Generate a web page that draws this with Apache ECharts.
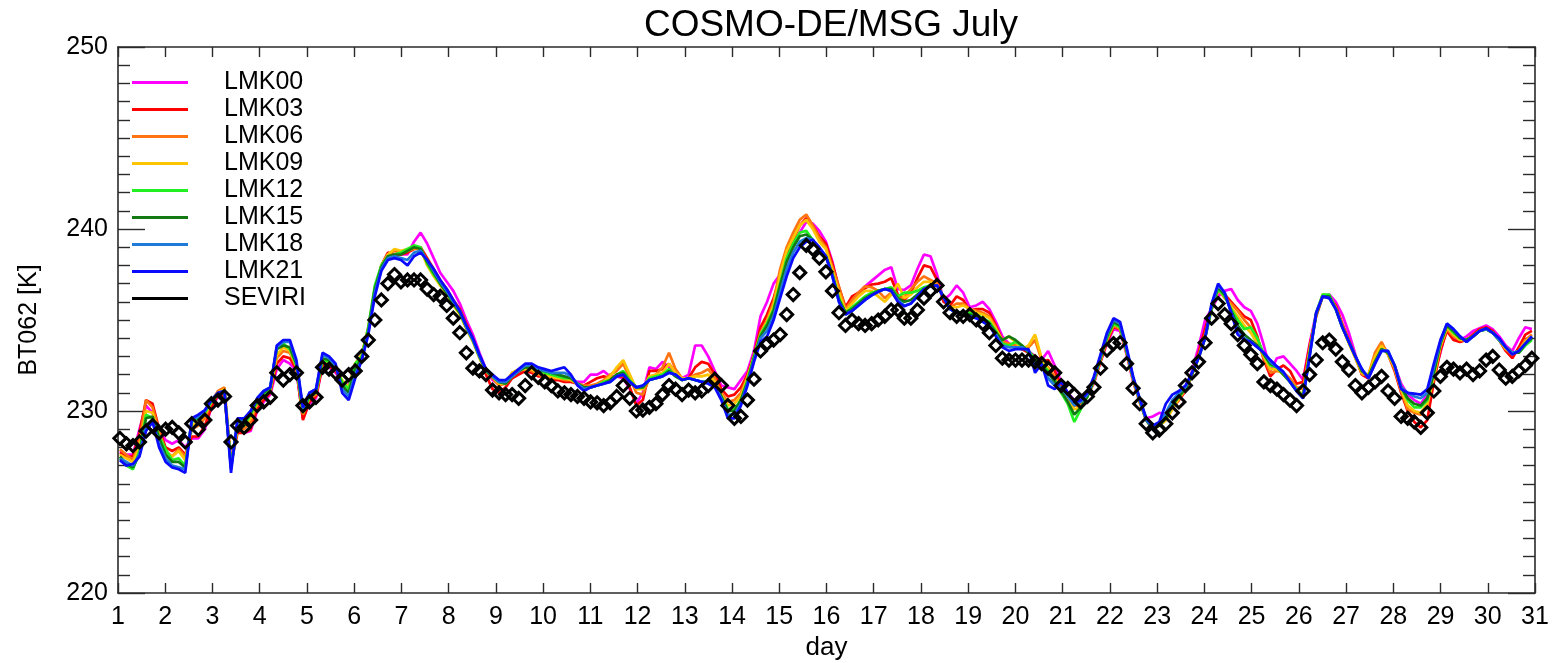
<!DOCTYPE html>
<html>
<head>
<meta charset="utf-8">
<script src="https://cdn.jsdelivr.net/npm/echarts@6/dist/echarts.min.js"></script>
<style>
  html, body { margin: 0; padding: 0; background: #ffffff; }
  #chart { width: 1558px; height: 663px; }
</style>
</head>
<body>
<div id="chart"></div>
<script>
// Brightness temperature in the 6.2 µm channel, July: COSMO-DE runs vs. SEVIRI.
// All series share one sampling grid, starting at day 1.04.
const firstDay = 1.04;
const stepDays = 0.1384;

const dayTicks = [1, 31, 1];          // min, max, interval of the day axis
const btTicks = [220, 250, 10];       // min, max, interval of the BT axis

const sevir = [
  228.5,228.2,228.1,228.3,228.9,229.2,228.8,229.0,229.1,228.8,
  228.3,229.3,229.0,229.5,230.4,230.6,230.8,228.3,229.2,229.1,
  229.5,230.3,230.5,230.75,232.1,231.7,232.0,232.1,230.3,230.5,
  230.75,232.4,232.3,232.1,231.7,232.0,232.2,233.0,233.9,235.0,
  236.1,237.0,237.5,237.1,237.2,237.2,237.2,236.7,236.4,236.3,
  235.8,235.1,234.3,233.2,232.35,232.2,232.0,231.15,231.0,230.9,
  230.9,230.7,231.4,232.1,231.85,231.6,231.4,231.1,231.0,230.9,
  230.8,230.7,230.5,230.45,230.3,230.45,230.8,231.4,230.7,230.0,
  230.05,230.2,230.4,230.9,231.4,231.2,230.9,231.15,231.0,231.1,
  231.4,231.75,231.4,230.3,229.6,229.7,230.6,231.75,233.3,233.7,
  233.9,234.2,235.3,236.4,237.6,239.1,238.9,238.4,237.65,236.6,
  235.4,234.7,235.0,234.8,234.7,234.8,235.0,235.2,235.55,235.55,
  235.1,235.1,235.55,236.2,236.6,236.9,236.0,235.4,235.2,235.2,
  235.3,235.0,234.8,234.3,233.6,232.9,232.8,232.8,232.8,232.8,
  232.7,232.6,232.35,232.1,231.4,231.25,230.9,230.5,230.8,231.3,
  232.35,233.35,233.7,233.75,232.6,231.25,230.4,229.3,228.8,228.95,
  229.3,229.9,230.5,231.4,232.1,232.7,233.75,235.1,235.9,235.3,
  234.8,234.2,233.6,233.1,232.6,231.6,231.4,231.2,230.9,230.6,
  230.3,231.1,232.0,232.8,233.75,233.9,233.4,232.7,232.25,231.4,
  231.0,231.3,231.6,231.9,231.1,230.7,229.7,229.6,229.4,229.1,
  229.9,231.1,231.9,232.4,232.3,232.1,232.3,232.0,232.2,232.8,
  233.0,232.25,231.8,231.9,232.2,232.5,232.9
];

const lmk00 = [
  227.8,227.6,227.6,229.0,230.3,229.9,229.0,228.4,228.2,228.4,228.0,228.5,228.5,229.0,230.2,230.8,230.9,227.3,228.9,228.8,
  228.9,230.0,230.5,230.9,232.3,232.8,232.6,232.2,229.6,230.4,230.7,232.5,232.4,232.1,231.6,231.4,232.6,233.0,234.4,
  236.5,237.8,238.4,238.5,238.6,238.6,239.3,239.8,239.2,238.4,237.6,237.1,236.6,235.9,235.0,234.2,233.2,232.3,231.7,231.5,
  231.6,232.0,232.1,232.2,232.1,232.0,231.9,231.8,231.8,231.7,231.7,231.6,231.6,232.0,232.0,
  232.2,231.9,231.9,231.8,231.2,230.4,231.0,232.4,232.3,232.7,232.4,232.0,231.8,232.0,233.6,233.6,233.0,232.2,231.4,231.3,
  231.2,231.7,232.2,233.3,235.2,236.0,237.0,237.5,
  238.2,239.0,239.8,240.4,240.3,239.9,239.3,238.2,236.6,235.7,236.0,236.5,236.85,237.15,237.45,237.75,237.9,236.7,236.65,236.9,
  237.8,238.6,238.5,237.5,236.1,236.4,236.9,236.5,235.7,235.8,236.0,235.6,
  234.9,234.1,233.7,233.6,233.5,233.3,233.0,232.8,233.3,232.5,231.6,231.0,230.6,230.5,230.9,231.5,232.7,233.7,234.5,234.4,
  233.1,231.6,230.5,229.6,229.7,229.9,229.8,230.2,230.6,231.1,232.2,233.5,235.0,235.6,236.3,236.6,236.7,236.1,235.7,235.5,234.8,
  233.6,232.2,232.9,233.0,232.6,232.2,231.7,233.7,235.4,236.3,236.4,236.0,235.3,234.3,233.1,232.0,231.8,232.6,233.6,233.2,
  232.5,231.5,230.9,230.6,230.4,230.9,232.0,233.2,234.6,234.0,233.9,234.1,234.4,234.55,234.7,234.5,234.1,233.6,233.3,234.0,
  234.6,234.5
];

const lmk03 = [
  227.7,227.5,227.5,228.8,230.6,230.4,229.0,228.0,227.8,228.0,227.6,228.6,228.6,229.2,230.2,230.9,230.8,227.1,228.8,228.8,
  229.0,230.1,230.6,231.0,232.6,233.0,232.9,232.3,229.5,230.5,230.8,232.5,232.5,232.2,231.5,231.3,232.5,233.0,234.5,
  236.6,238.0,238.7,238.6,238.6,238.7,238.9,239.0,238.4,237.8,237.2,236.7,236.1,235.6,234.8,234.0,233.0,232.0,231.2,231.0,
  231.3,231.8,232.0,232.2,232.1,231.9,231.9,231.7,231.7,231.6,231.6,231.5,231.4,231.6,231.8,
  231.9,231.8,231.9,231.9,231.3,230.3,230.6,232.2,232.2,232.3,232.6,232.1,231.7,231.8,232.4,232.7,232.6,232.0,231.2,230.8,
  230.9,231.3,232.0,233.1,234.6,235.3,236.2,237.4,
  238.5,239.4,240.2,240.6,240.2,239.6,239.2,238.1,236.8,235.7,236.3,236.5,236.75,236.95,237.0,237.1,237.3,236.4,236.1,236.5,
  237.3,238.0,237.9,237.2,236.0,235.8,236.3,236.1,235.5,235.6,235.6,235.4,
  234.7,233.9,233.6,233.5,233.4,233.2,233.0,232.7,232.8,232.2,231.4,230.8,230.5,230.4,230.9,231.6,232.7,233.8,234.6,234.5,
  233.2,231.7,230.5,229.5,229.1,229.3,229.6,230.2,230.6,231.1,232.0,233.2,234.5,235.7,236.6,236.4,236.0,235.6,235.2,235.0,234.1,
  232.8,231.9,232.3,232.5,232.2,231.5,231.6,233.6,235.2,236.3,236.2,235.8,234.8,233.9,233.0,232.0,231.8,232.9,233.6,233.1,
  232.2,231.0,230.0,229.4,229.1,229.5,231.6,233.3,234.4,233.9,233.8,233.9,234.2,234.5,234.6,234.4,233.9,233.3,232.9,233.5,
  234.2,234.4
];

const lmk06 = [
  227.9,227.6,227.3,228.4,230.6,230.2,228.9,227.8,227.5,227.9,227.5,229.0,229.2,229.6,230.5,231.1,231.3,227.2,229.0,229.0,
  229.4,230.4,230.8,231.1,232.9,233.3,233.2,232.4,229.8,230.7,230.9,232.7,232.6,232.3,231.6,231.3,232.6,233.1,234.6,
  236.7,237.9,238.6,238.8,238.7,238.8,238.9,238.9,238.2,237.6,237.1,236.6,236.0,235.5,234.7,233.9,233.0,232.2,231.8,231.4,
  231.5,232.1,232.2,232.3,232.2,232.0,231.9,231.8,231.8,231.7,231.7,231.5,231.4,231.4,231.5,
  231.7,232.0,232.2,232.6,231.8,231.0,230.9,231.8,232.0,232.4,233.2,232.3,231.8,231.8,232.0,232.1,232.3,231.8,231.0,230.5,
  230.6,231.0,231.9,233.0,234.3,235.0,236.0,237.8,
  239.0,239.8,240.5,240.8,240.2,239.5,239.0,237.9,236.8,235.6,236.1,236.5,236.85,236.8,236.6,236.2,236.5,236.1,236.3,236.7,
  237.1,237.4,237.2,237.0,236.2,235.7,235.9,235.9,235.6,235.5,235.4,235.2,
  234.6,233.8,233.7,233.6,233.5,233.5,233.9,232.8,232.4,231.9,231.2,230.7,230.3,230.3,230.8,231.6,232.8,233.9,234.7,234.5,
  233.2,231.7,230.5,229.5,229.0,229.2,229.5,230.1,230.6,231.2,232.0,233.0,234.2,235.6,236.7,236.2,235.9,235.5,235.0,234.6,233.9,
  232.9,232.1,232.2,232.1,231.8,231.3,231.2,233.4,235.3,236.4,236.3,235.7,234.7,233.8,232.9,232.0,232.0,233.2,233.8,233.1,
  232.3,231.1,230.1,229.9,229.8,230.3,231.8,233.5,234.5,234.1,233.9,233.9,234.1,234.4,234.5,234.3,233.9,233.4,233.1,233.3,
  233.9,234.2
];

const lmk09 = [
  227.6,227.4,227.2,228.0,230.0,229.9,228.6,227.7,227.5,227.8,227.3,229.2,229.4,229.8,230.5,231.0,231.2,227.0,229.1,229.2,
  229.6,230.5,230.9,231.2,233.1,233.5,233.3,232.5,229.9,230.8,231.0,232.8,232.7,232.4,231.7,231.3,232.6,233.1,234.5,
  236.7,238.0,238.6,238.9,238.8,238.9,239.0,238.9,238.0,237.4,236.9,236.4,235.8,235.3,234.5,233.8,232.9,232.2,231.9,231.5,
  231.5,232.1,232.3,232.3,232.3,232.1,232.0,231.9,231.8,231.8,231.7,231.5,231.3,231.3,231.4,
  231.6,231.9,232.4,232.8,232.0,231.2,231.2,231.9,232.0,232.1,232.6,232.1,231.8,231.8,231.9,231.9,232.0,231.6,230.9,230.3,
  230.4,230.8,231.8,233.0,234.2,234.9,235.8,237.5,
  238.8,239.5,240.2,240.5,240.0,239.3,238.9,237.7,236.5,235.5,235.9,236.3,236.6,236.6,236.3,236.0,236.4,237.0,236.2,236.4,
  236.8,237.1,237.1,236.9,236.3,235.7,235.7,235.8,235.6,235.4,235.3,235.1,
  234.5,233.9,234.1,233.8,233.4,233.6,234.2,232.9,232.3,231.6,231.0,230.6,230.1,230.2,230.8,231.6,232.8,234.0,234.8,234.6,
  233.2,231.7,230.5,229.5,229.0,229.2,229.5,230.1,230.7,231.2,232.0,232.9,234.0,235.6,236.7,236.3,235.7,235.2,234.7,234.3,233.7,
  233.0,232.3,232.3,232.0,231.6,231.2,230.9,233.3,235.3,236.4,236.3,235.6,234.6,233.7,232.9,232.1,232.0,233.0,233.6,233.1,
  232.4,231.2,230.3,230.0,229.9,230.4,231.9,233.6,234.6,234.2,233.9,233.9,234.1,234.4,234.5,234.3,233.9,233.4,233.2,233.3,
  233.8,234.1
];

const lmk12 = [
  227.4,227.0,226.8,227.8,229.8,229.6,228.6,227.9,227.3,227.4,227.0,229.4,229.6,229.9,230.5,230.9,231.0,227.0,229.2,229.2,
  229.8,230.5,230.9,231.2,233.5,233.7,233.4,232.5,229.9,230.8,231.0,232.8,232.7,232.4,231.6,231.2,232.6,233.0,234.6,
  236.9,238.0,238.5,238.6,238.7,238.9,239.1,239.0,238.1,237.5,237.0,236.5,235.9,235.4,234.6,233.9,233.0,232.2,231.9,231.6,
  231.5,231.9,232.2,232.4,232.4,232.2,232.1,232.0,231.9,231.8,231.8,231.5,231.3,231.3,231.4,
  231.6,231.7,232.0,232.2,231.7,231.3,231.3,231.8,231.9,232.0,232.3,231.9,231.7,231.8,231.7,231.6,231.6,231.4,230.8,230.1,
  230.1,230.6,231.7,233.0,234.2,234.8,235.6,237.0,
  238.4,239.2,239.8,239.9,239.4,238.8,238.5,237.5,236.2,235.4,235.7,236.0,236.3,236.5,236.6,236.7,236.8,236.3,236.5,236.5,
  236.6,236.8,236.9,236.9,236.3,235.6,235.4,235.4,235.4,235.3,235.1,234.9,
  234.4,233.7,233.6,233.8,233.6,233.3,232.9,232.6,232.2,231.7,231.0,230.4,229.4,230.1,230.8,231.7,232.9,234.0,234.8,234.6,
  233.3,231.8,230.6,229.6,229.1,229.3,229.6,230.3,230.8,231.2,232.1,232.9,234.0,235.6,236.7,236.3,235.6,235.0,234.5,234.6,234.0,
  233.1,232.5,232.4,232.0,231.6,231.2,230.8,233.2,235.4,236.4,236.4,235.6,234.6,233.8,233.0,232.2,231.9,232.7,233.4,233.2,
  232.5,231.3,230.6,230.2,230.2,230.6,232.1,233.7,234.7,234.3,234.0,233.9,234.1,234.4,234.5,234.3,233.9,233.5,233.2,233.2,
  233.6,233.9
];

const lmk15 = [
  227.5,227.1,226.9,227.6,229.6,229.7,228.5,227.6,227.2,227.2,226.9,229.5,229.7,230.0,230.6,230.9,231.0,226.9,229.4,229.4,
  229.9,230.6,231.0,231.3,233.4,233.6,233.5,232.6,230.0,230.9,231.1,232.9,232.8,232.4,231.4,231.0,232.3,232.9,234.4,
  236.7,237.9,238.5,238.6,238.6,238.8,239.0,238.9,238.2,237.6,237.0,236.5,235.9,235.4,234.6,233.9,233.0,232.2,231.9,231.6,
  231.5,231.9,232.2,232.4,232.4,232.2,232.2,232.1,232.0,231.9,231.8,231.5,231.3,231.3,231.4,
  231.5,231.7,232.0,232.1,231.6,231.3,231.3,231.7,231.8,231.9,232.2,231.9,231.7,231.8,231.7,231.6,231.6,231.4,230.8,230.0,
  230.0,230.6,231.6,232.9,234.1,234.7,235.5,236.9,
  238.2,239.0,239.6,239.7,239.4,238.9,238.5,237.5,236.1,235.4,235.6,235.9,236.2,236.4,236.6,236.7,236.7,236.2,236.0,236.1,
  236.4,236.7,236.9,236.9,236.3,235.6,235.4,235.3,235.3,235.2,235.0,234.8,
  234.3,233.9,234.1,233.9,233.6,233.2,232.8,232.5,232.1,231.6,231.1,230.5,229.8,230.2,230.8,231.7,232.9,234.1,234.9,234.7,
  233.3,231.8,230.6,229.5,229.0,229.2,229.6,230.3,230.8,231.2,232.0,232.9,234.0,235.7,236.8,236.4,235.5,234.7,234.2,233.9,233.6,
  233.1,232.6,232.4,232.0,231.6,231.1,230.8,233.1,235.3,236.3,236.3,235.6,234.6,233.8,233.0,232.2,231.9,232.7,233.4,233.2,
  232.5,231.3,230.7,230.4,230.3,230.7,232.1,233.7,234.7,234.4,234.0,233.9,234.1,234.4,234.5,234.3,233.9,233.5,233.2,233.2,
  233.7,234.0
];

const lmk18 = [
  227.4,227.2,227.0,227.6,229.2,229.5,228.2,227.4,227.0,226.9,226.8,229.5,229.7,230.0,230.6,231.0,231.1,226.8,229.5,229.5,
  230.0,230.7,231.1,231.3,233.5,233.8,233.8,232.7,230.1,231.0,231.2,233.1,232.9,232.5,231.2,230.8,232.0,232.8,234.3,
  236.5,237.8,238.4,238.5,238.4,238.3,238.7,238.8,238.3,237.7,237.1,236.6,236.0,235.5,234.6,233.9,233.0,232.3,231.9,231.6,
  231.6,231.9,232.2,232.5,232.5,232.3,232.2,232.1,232.1,232.1,231.9,231.5,231.2,231.3,231.4,
  231.5,231.6,231.9,232.0,231.6,231.3,231.4,231.7,231.8,231.9,232.1,232.0,231.7,231.8,231.7,231.6,231.6,231.4,230.7,229.8,
  229.8,230.4,231.5,232.8,234.0,234.4,235.2,236.5,
  237.8,238.7,239.3,239.5,239.4,238.9,238.5,237.4,236.0,235.3,235.5,235.8,236.1,236.35,236.55,236.7,236.6,236.1,235.8,235.9,
  236.3,236.7,236.85,236.9,236.25,235.6,235.4,235.25,235.2,235.1,234.9,234.7,
  234.2,233.6,233.5,233.5,233.5,233.3,232.5,232.5,231.8,231.4,231.3,230.8,230.3,230.5,230.9,231.8,233.0,234.2,235.0,234.8,
  233.4,231.8,230.6,229.5,229.1,229.3,229.9,230.6,231.0,231.3,232.1,232.9,234.0,235.8,236.9,236.5,235.4,234.5,234.0,233.8,233.5,
  233.2,232.7,232.4,232.1,231.6,231.1,230.7,233.0,235.4,236.3,236.2,235.6,234.6,233.8,233.0,232.3,231.8,232.6,233.3,233.3,
  232.5,231.3,231.0,230.8,230.7,231.0,232.4,233.8,234.8,234.5,234.1,233.8,234.1,234.4,234.5,234.3,233.9,233.5,233.2,233.3,
  233.7,234.1
];

const lmk21 = [
  227.3,227.0,227.1,227.5,228.9,229.4,228.0,227.2,226.9,226.8,226.6,229.6,229.8,230.05,230.6,231.0,231.1,226.6,229.6,229.6,
  230.0,230.7,231.1,231.3,233.6,233.9,233.9,232.8,230.2,231.0,231.2,233.2,233.0,232.6,231.0,230.6,231.8,232.8,234.2,
  236.3,237.7,238.3,238.4,238.3,238.0,238.5,238.7,238.3,237.8,237.2,236.7,236.1,235.5,234.7,234.0,233.1,232.3,232.0,231.7,
  231.7,232.0,232.3,232.6,232.6,232.4,232.3,232.2,232.3,232.4,232.0,231.4,231.1,231.3,231.4,
  231.5,231.6,231.9,232.0,231.6,231.3,231.4,231.7,231.8,231.9,232.1,232.0,231.7,231.8,231.7,231.6,231.5,231.3,230.6,229.6,
  229.6,230.3,231.4,232.7,233.8,234.1,235.0,236.2,
  237.4,238.4,239.0,239.3,239.4,239.0,238.5,237.4,236.0,235.3,235.5,235.8,236.1,236.35,236.55,236.7,236.6,236.0,235.75,235.9,
  236.3,236.7,236.85,236.9,236.25,235.6,235.4,235.25,235.2,235.1,234.9,234.7,
  234.1,233.5,233.3,233.4,233.4,233.4,232.1,232.6,231.4,231.2,231.6,231.0,230.5,230.6,231.0,231.9,233.1,234.3,235.1,234.9,
  233.5,231.9,230.7,229.6,229.2,229.4,230.4,230.9,231.1,231.4,232.1,232.9,234.0,235.9,237.0,236.5,235.4,234.2,233.9,233.8,233.5,
  233.2,232.8,232.45,232.15,231.6,231.1,230.7,233.0,235.4,236.3,236.2,235.6,234.6,233.8,233.0,232.3,231.8,232.6,233.3,233.3,
  232.5,231.2,231.0,230.95,230.9,231.2,232.6,233.9,234.8,234.5,234.1,233.8,234.1,234.4,234.55,234.3,234.0,233.5,233.1,233.3,
  233.7,234.1
];

const runNames = ['LMK00', 'LMK03', 'LMK06', 'LMK09', 'LMK12', 'LMK15', 'LMK18', 'LMK21'];
const runValues = [lmk00, lmk03, lmk06, lmk09, lmk12, lmk15, lmk18, lmk21];
const runColors = ['#ff00ff', '#ff0000', '#ff7410', '#ffc400', '#22f022', '#137a13', '#1f7ad8', '#0a0aff'];
const obsName = 'SEVIRI';

runValues.forEach((arr, k) => {
  if (arr.length !== sevir.length) {
    throw new Error(runNames[k] + ' has ' + arr.length + ' values, expected ' + sevir.length);
  }
});

const days = sevir.map((_, i) => firstDay + i * stepDays);
const pairs = vals => vals.map((v, i) => [days[i], v]);

const FONT = '"Liberation Sans", Arial, Helvetica, sans-serif';
const INK = '#000000';
const FRAME = '#2a2a2a';

const series = runNames.map((name, k) => ({
  name: name,
  type: 'line',
  data: pairs(runValues[k]),
  showSymbol: false,
  symbol: 'none',
  lineStyle: { width: 2.7, color: runColors[k], opacity: 1 },
  itemStyle: { color: runColors[k] },
  emphasis: { disabled: true },
  z: 2
}));

series.push({
  name: obsName,
  type: 'scatter',
  data: pairs(sevir),
  symbol: 'diamond',
  symbolSize: 12,
  itemStyle: { color: 'rgba(0,0,0,0)', borderColor: '#000000', borderWidth: 3, opacity: 1 },
  emphasis: { disabled: true },
  z: 3
});

function frameAxis(extra) {
  return Object.assign({
    type: 'value',
    gridIndex: 0,
    splitLine: { show: false },
    axisLine: { show: true, onZero: false, lineStyle: { color: FRAME, width: 1.6 } },
    axisTick: { show: true, inside: true, lineStyle: { color: FRAME, width: 1.4 } }
  }, extra);
}

const option = {
  animation: false,
  backgroundColor: '#ffffff',
  textStyle: { fontFamily: FONT },
  title: {
    text: 'COSMO-DE/MSG July',
    left: 826,
    top: 2,
    textAlign: 'center',
    textStyle: { fontFamily: FONT, fontSize: 37, fontWeight: 'normal', color: INK }
  },
  grid: { left: 118, right: 23, top: 47, bottom: 70, outerBoundsMode: 'none' },
  legend: {
    orient: 'vertical',
    left: 132,
    top: 70,
    padding: 0,
    itemGap: 2,
    itemWidth: 56,
    itemHeight: 3,
    icon: 'rect',
    selectedMode: false,
    itemStyle: { borderWidth: 0 },
    textStyle: { fontFamily: FONT, fontSize: 25, color: INK, lineHeight: 25, padding: [0, 0, 0, 31] },
    data: runNames.map((n, k) => ({ name: n, itemStyle: { color: runColors[k], borderWidth: 0 } }))
      .concat([{ name: obsName, itemStyle: { color: '#000000', borderWidth: 0 } }])
  },
  xAxis: [
    frameAxis({
      position: 'bottom',
      min: dayTicks[0], max: dayTicks[1], interval: dayTicks[2],
      axisTick: { show: true, inside: true, length: 10, lineStyle: { color: FRAME, width: 1.4 } },
      axisLabel: { fontFamily: FONT, fontSize: 25, color: INK, margin: 12 },
      name: 'day',
      nameLocation: 'middle',
      nameGap: 42,
      nameTextStyle: { fontFamily: FONT, fontSize: 26, color: INK }
    }),
    frameAxis({
      position: 'top',
      min: dayTicks[0], max: dayTicks[1], interval: dayTicks[2],
      axisTick: { show: true, inside: true, length: 10, lineStyle: { color: FRAME, width: 1.4 } },
      axisLabel: { show: false }
    })
  ],
  yAxis: [
    frameAxis({
      position: 'left',
      min: btTicks[0], max: btTicks[1], interval: btTicks[2],
      axisTick: { show: true, inside: true, length: 27, lineStyle: { color: FRAME, width: 1.4 } },
      minorTick: { show: true, splitNumber: 10, length: 12, lineStyle: { color: FRAME, width: 1.4 } },
      axisLabel: { fontFamily: FONT, fontSize: 25, color: INK, margin: 10 },
      name: 'BT062 [K]',
      nameLocation: 'middle',
      nameGap: 76,
      nameTextStyle: { fontFamily: FONT, fontSize: 25, color: INK }
    }),
    frameAxis({
      position: 'right',
      min: btTicks[0], max: btTicks[1], interval: btTicks[2],
      axisTick: { show: true, inside: true, length: 27, lineStyle: { color: FRAME, width: 1.4 } },
      minorTick: { show: true, splitNumber: 10, length: 12, lineStyle: { color: FRAME, width: 1.4 } },
      axisLabel: { show: false }
    })
  ],
  series: series
};

const chart = echarts.init(document.getElementById('chart'), null, { renderer: 'canvas' });
chart.setOption(option);
</script>
</body>
</html>
